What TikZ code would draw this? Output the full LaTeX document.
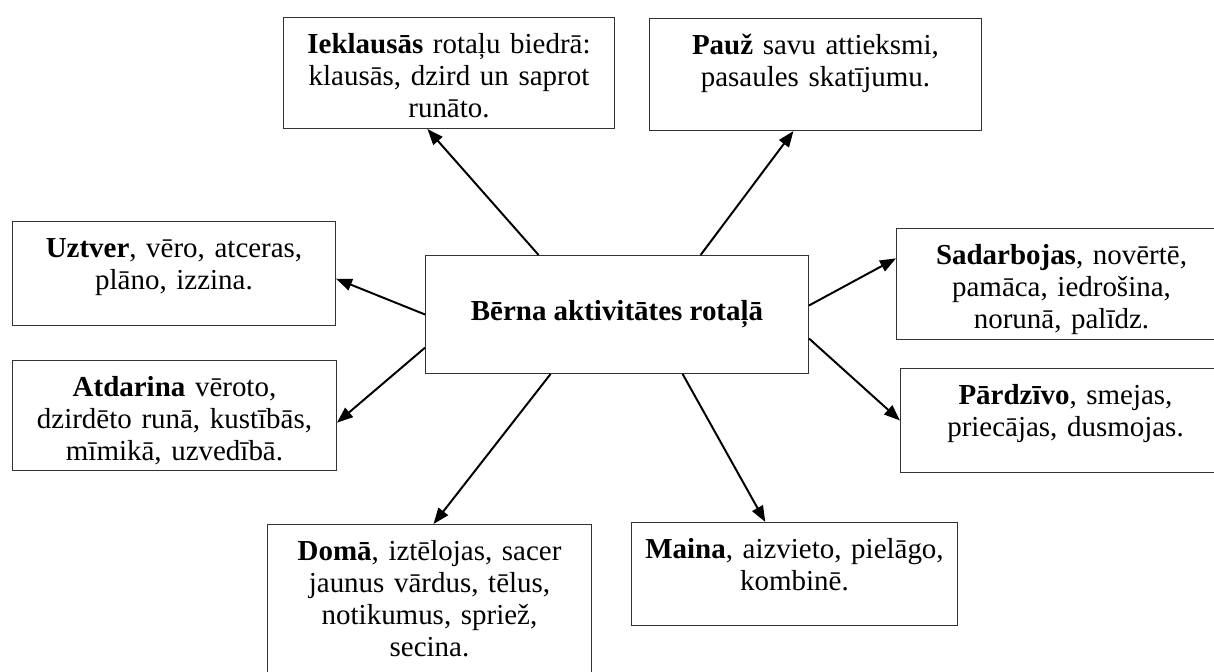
\documentclass[tikz,border=0pt]{standalone}
\usepackage{fontspec}
\setmainfont{Liberation Serif}
\usepackage{tikz}
\usetikzlibrary{arrows.meta, positioning}

\begin{document}
\begin{tikzpicture}
    % Define styles for the nodes
    \tikzstyle{textbox} = [
        draw=black!80, line width=0.7pt, align=center, anchor=north west,
        inner xsep=0.2cm, inner ysep=0.35cm, text height=0.55cm,
        font=\fontsize{20.6}{22.8}\selectfont
    ]
    \tikzstyle{hubbox} = [
        draw=black!80, line width=0.7pt, anchor=north west,
        minimum width=9.575cm, minimum height=2.95cm,
        font=\fontsize{20.6}{22.8}\selectfont\bfseries
    ]
    \tikzstyle{pointer} = [
        -{Triangle[length=0.4cm, width=0.3cm]}, line width=1.4pt
    ]

    % Page
    \useasboundingbox (0,0) rectangle (30.35,-16.775);
    \clip (0,0) rectangle (30.35,-16.775);

    % Hub
    \node[hubbox] (hub) at (10.625,-6.375) {Bērna aktivitātes rotaļā};

    % Top boxes
    \node[textbox, text width=7.875cm, text depth=1.525cm] (ieklaus) at (7.075,-0.425)
        {\textbf{Ieklausās} rotaļu biedrā:\\ klausās, dzird un saprot\\ runāto.};
    \node[textbox, text width=7.9cm, text depth=1.55cm] (pauz) at (16.225,-0.45)
        {\textbf{Pauž} savu attieksmi,\\ pasaules skatījumu.};

    % Left boxes
    \node[textbox, text width=7.675cm, text depth=1.35cm] (uztver) at (0.3,-5.525)
        {\textbf{Uztver}, vēro, atceras,\\ plāno, izzina.};
    \node[textbox, text width=7.7cm, text depth=1.5cm] (atdar) at (0.3,-9.0)
        {\textbf{Atdarina} vēroto,\\ dzirdēto runā, kustībās,\\ mīmikā, uzvedībā.};

    % Right boxes
    \node[textbox, text width=7.85cm, text depth=1.525cm] (sadarb) at (22.4,-5.7)
        {\textbf{Sadarbojas}, novērtē,\\ pamāca, iedrošina,\\ norunā, palīdz.};
    \node[textbox, text width=7.85cm, text depth=1.35cm] (pardz) at (22.5,-9.2)
        {\textbf{Pārdzīvo}, smejas,\\ priecājas, dusmojas.};

    % Bottom boxes
    \node[textbox, text width=7.7cm, text depth=3.05cm] (doma) at (6.675,-13.1)
        {\textbf{Domā}, iztēlojas, sacer\\ jaunus vārdus, tēlus,\\ notikumus, spriež,\\ secina.};
    \node[textbox, text width=7.75cm, text depth=1.325cm] (maina) at (15.775,-13.05)
        {\textbf{Maina}, aizvieto, pielāgo,\\ kombinē.};

    % Arrows from the hub
    \draw[pointer] ([xshift=-1.96cm]hub.north) -- ([xshift=-0.54cm]ieklaus.south);
    \draw[pointer] ([xshift=2.09cm]hub.north) -- ([xshift=-0.55cm]pauz.south);
    \draw[pointer] ([yshift=0.225cm]hub.east) -- ([yshift=0.64cm]sadarb.west);
    \draw[pointer] ([yshift=-0.6cm]hub.east) -- (pardz.west);
    \draw[pointer] ([xshift=1.64cm]hub.south) -- ([xshift=-0.73cm]maina.north);
    \draw[pointer] ([xshift=-1.66cm]hub.south) -- ([xshift=0.1cm]doma.north);
    \draw[pointer] ([yshift=-0.83cm]hub.west) -- ([yshift=-0.18cm]atdar.east);
    \draw[pointer] (hub.west) -- ([yshift=-0.13cm]uztver.east);

\end{tikzpicture}
\end{document}
